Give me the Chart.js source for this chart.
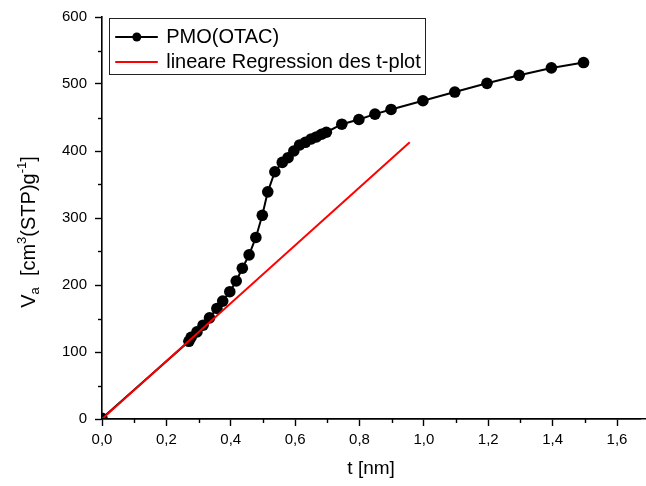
<!DOCTYPE html>
<html>
<head>
<meta charset="utf-8">
<title>t-plot PMO(OTAC)</title>
<script src="https://cdn.jsdelivr.net/npm/chart.js@4.4.1/dist/chart.umd.min.js"></script>
<style>
  html, body { margin: 0; padding: 0; background: #fff; }
  #wrap { width: 646px; height: 486px; }
</style>
</head>
<body>
<div id="wrap"><canvas id="tplot" width="646" height="486"></canvas></div>
<script>
// PMO(OTAC) t-plot
const tValues = [0, 0.270, 0.277, 0.295, 0.314, 0.334, 0.357, 0.375, 0.397, 0.417, 0.436, 0.457,
  0.478, 0.498, 0.515, 0.537, 0.560, 0.578, 0.596, 0.614, 0.632, 0.650, 0.666, 0.682, 0.697,
  0.745, 0.798, 0.848, 0.898, 0.997, 1.096, 1.196, 1.296, 1.396, 1.496];
const vaValues = [1, 116, 122, 130, 140, 151, 165, 176, 190, 206, 225, 245,
  271, 304, 339, 369, 383, 390, 400, 409, 413, 418, 421, 425, 428,
  440, 447, 455, 462, 475, 488, 501, 513, 524, 532];

// linear regression line of the t-plot
const regT = [0, 0.956];
const regV = [0, 413];

const xTickLabels = ['0,0', '0,2', '0,4', '0,6', '0,8', '1,0', '1,2', '1,4', '1,6'];
const yTickLabels = ['0', '100', '200', '300', '400', '500', '600'];

const FONT = '"Liberation Sans", Arial, sans-serif';

function isMajorX(v) { return Math.round(v * 10) % 2 === 0; }
function isMajorY(v) { return Math.round(v) % 100 === 0; }

// minor ticks, y axis title with sub/superscripts, boxed legend
const extras = {
  id: 'extras',
  afterDraw(chart) {
    const ctx = chart.ctx;
    const xs = chart.scales.x, ys = chart.scales.y;
    const area = chart.chartArea;
    ctx.save();

    // axis runs on to the right edge like in the original export
    const axisY = Math.round(area.bottom - 0.8) + 0.8;
    ctx.strokeStyle = '#000';
    ctx.lineWidth = 1.6;
    ctx.beginPath();
    ctx.moveTo(area.left, axisY);
    ctx.lineTo(chart.width, axisY);
    ctx.stroke();

    ctx.lineWidth = 1.4;
    xs.ticks.forEach(t => {
      if (!isMajorX(t.value)) {
        const px = Math.round(xs.getPixelForValue(t.value)) + 0.5;
        ctx.beginPath();
        ctx.moveTo(px, area.bottom);
        ctx.lineTo(px, area.bottom + 4);
        ctx.stroke();
      }
    });
    ys.ticks.forEach(t => {
      if (!isMajorY(t.value)) {
        const py = Math.round(ys.getPixelForValue(t.value)) + 0.5;
        ctx.beginPath();
        ctx.moveTo(area.left, py);
        ctx.lineTo(area.left - 4, py);
        ctx.stroke();
      }
    });

    // y title
    const parts = [
      { text: 'V', kind: 'n' }, { text: 'a', kind: 'sub' }, { text: '  [cm', kind: 'n' },
      { text: '3', kind: 'sup' }, { text: '(STP)g', kind: 'n' }, { text: '-1', kind: 'sup' },
      { text: ']', kind: 'n' }
    ];
    const bigFont = '20px ' + FONT, smallFont = '13px ' + FONT;
    let total = 0;
    parts.forEach(p => {
      ctx.font = p.kind === 'n' ? bigFont : smallFont;
      p.w = ctx.measureText(p.text).width;
      total += p.w;
    });
    ctx.save();
    ctx.translate(35, (area.top + area.bottom) / 2 + 14);
    ctx.rotate(-Math.PI / 2);
    ctx.fillStyle = '#000';
    ctx.textBaseline = 'alphabetic';
    let x = -total / 2;
    parts.forEach(p => {
      ctx.font = p.kind === 'n' ? bigFont : smallFont;
      const dy = p.kind === 'sub' ? 4 : (p.kind === 'sup' ? -9 : 0);
      ctx.fillText(p.text, x, dy);
      x += p.w;
    });
    ctx.restore();

    // legend
    const lx = area.left + 6.5, ly = area.top + 1;
    ctx.font = bigFont;
    const sets = chart.data.datasets;
    const textW = Math.max(...sets.map(d => ctx.measureText(d.label).width));
    const boxW = 57.7 + textW + 3.5, boxH = 56;
    ctx.fillStyle = '#fff';
    ctx.fillRect(lx, ly, boxW, boxH);
    ctx.strokeStyle = '#222';
    ctx.lineWidth = 1;
    ctx.strokeRect(Math.round(lx) + 0.5, Math.round(ly) + 0.5, Math.round(boxW), Math.round(boxH));
    sets.forEach((d, i) => {
      const cy = ly + 19 + 25 * i;
      ctx.strokeStyle = d.borderColor;
      ctx.lineWidth = 2;
      ctx.beginPath();
      ctx.moveTo(lx + 6.7, cy);
      ctx.lineTo(lx + 49.3, cy);
      ctx.stroke();
      if (d.pointRadius > 0) {
        ctx.fillStyle = d.pointBackgroundColor;
        ctx.beginPath();
        ctx.arc(lx + 28.3, cy, 4.5, 0, Math.PI * 2);
        ctx.fill();
      }
      ctx.fillStyle = '#000';
      ctx.textBaseline = 'alphabetic';
      ctx.fillText(d.label, lx + 57.7, ly + 24.5 + 25 * i);
    });

    ctx.restore();
  }
};

const ctx = document.getElementById('tplot').getContext('2d');
new Chart(ctx, {
  type: 'line',
  data: {
    datasets: [{
      label: 'PMO(OTAC)',
      data: tValues.map((t, i) => ({ x: t, y: vaValues[i] })),
      borderColor: '#000',
      backgroundColor: '#000',
      pointBackgroundColor: '#000',
      pointBorderWidth: 0,
      pointRadius: 5.8,
      borderWidth: 2,
      tension: 0,
      order: 1
    }, {
      label: 'lineare Regression des t-plot',
      data: regT.map((t, i) => ({ x: t, y: regV[i] })),
      borderColor: '#ff0000',
      backgroundColor: '#ff0000',
      pointRadius: 0,
      borderWidth: 2,
      tension: 0,
      order: 0
    }]
  },
  options: {
    responsive: false,
    animation: false,
    layout: { padding: { top: 15, right: 0, left: 0, bottom: 0 } },
    plugins: {
      legend: { display: false },
      tooltip: { enabled: false }
    },
    scales: {
      x: {
        type: 'linear',
        min: 0,
        max: 1.672,
        afterFit: (scale) => { scale.height = 67; },
        border: { display: true, color: '#000', width: 1.6 },
        grid: {
          drawOnChartArea: false,
          drawTicks: true,
          tickLength: 7,
          tickWidth: 1.4,
          tickColor: (c) => (c.tick && isMajorX(c.tick.value)) ? '#000' : 'rgba(0,0,0,0)'
        },
        ticks: {
          stepSize: 0.1,
          includeBounds: false,
          autoSkip: false,
          maxRotation: 0,
          padding: 5,
          color: '#000',
          font: { family: FONT, size: 15 },
          callback: (v) => isMajorX(v) ? xTickLabels[Math.round(v * 5)] : ''
        },
        title: {
          display: true,
          text: 't [nm]',
          color: '#000',
          font: { family: FONT, size: 19 },
          padding: { top: 0, bottom: 6 }
        }
      },
      y: {
        type: 'linear',
        min: 0,
        max: 600,
        afterFit: (scale) => { scale.width = 102; },
        border: { display: true, color: '#000', width: 1.6 },
        grid: {
          drawOnChartArea: false,
          drawTicks: true,
          tickLength: 7,
          tickWidth: 1.4,
          tickColor: (c) => (c.tick && isMajorY(c.tick.value)) ? '#000' : 'rgba(0,0,0,0)'
        },
        ticks: {
          stepSize: 50,
          autoSkip: false,
          padding: 8,
          color: '#000',
          font: { family: FONT, size: 15 },
          callback: (v) => isMajorY(v) ? yTickLabels[Math.round(v / 100)] : ''
        }
      }
    }
  },
  plugins: [extras]
});
</script>
</body>
</html>
